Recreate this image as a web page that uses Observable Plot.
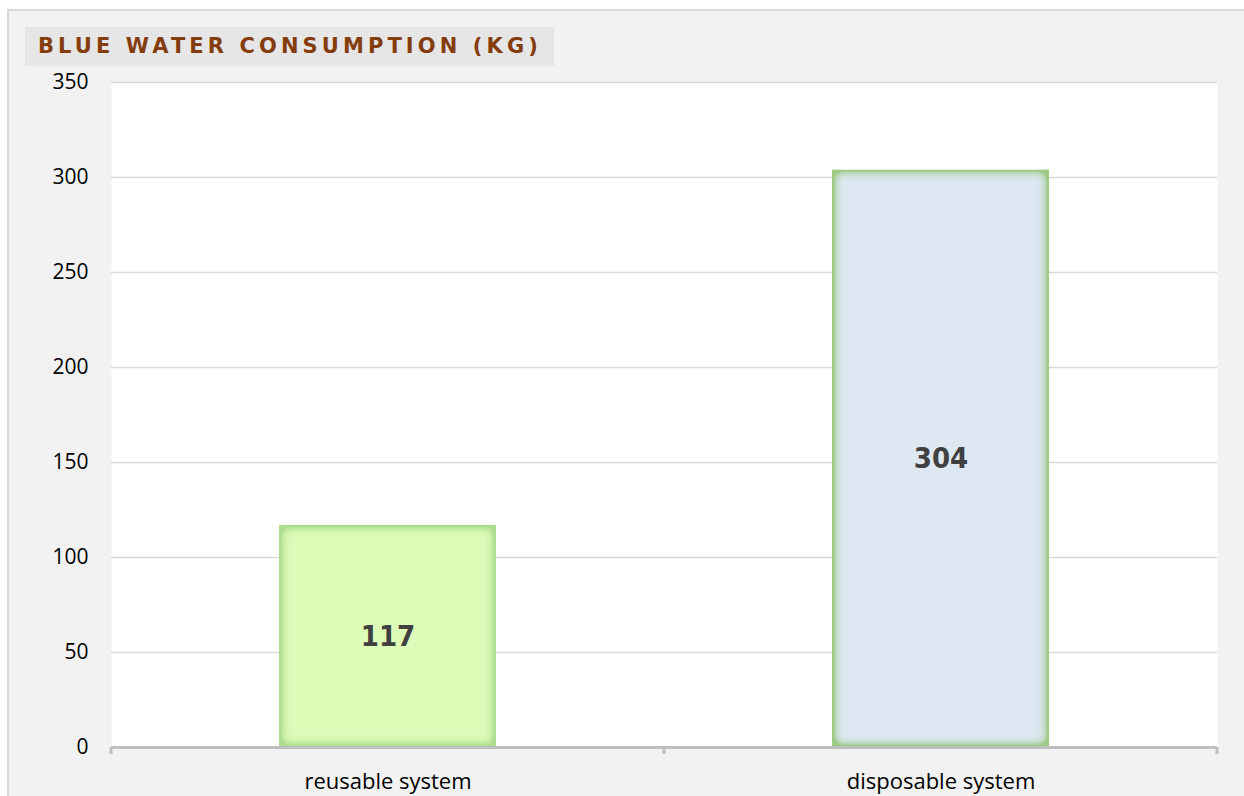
<!DOCTYPE html>
<html>
<head>
<meta charset="utf-8">
<script src="https://cdn.jsdelivr.net/npm/d3@7"></script>
<script src="https://cdn.jsdelivr.net/npm/@observablehq/plot@0.6"></script>
<style>
  html, body { margin: 0; padding: 0; background: #ffffff; width: 1244px; height: 796px; overflow: hidden; }
  #panel { position: absolute; left: 7px; top: 9px; width: 1240px; height: 800px; background: #f2f2f2; border: 2px solid #d9d9d9; box-sizing: border-box; }
  #title { position: absolute; left: 25px; top: 27px; height: 39px; padding: 0 12px 0 13px; background: #e6e6e6; color: #843c0c;
           font-family: "DejaVu Sans", sans-serif; font-weight: bold; font-size: 21px; letter-spacing: 4.1px; line-height: 39px; white-space: nowrap; }
  #chart { position: absolute; left: 0; top: 60px; }
</style>
</head>
<body>
<div id="panel"></div>
<div id="title">BLUE WATER CONSUMPTION (KG)</div>
<div id="chart"></div>
<script>
const categories = ["reusable system", "disposable system"];
const values = [117, 304];
const barFills = ["#dcfcb8", "#dde8f3"];
const glowColors = ["#addb90", "#9dcb83"];
const yTicks = [0, 50, 100, 150, 200, 250, 300, 350];

const data = categories.map((c, i) => ({cat: c, value: values[i], fill: barFills[i], idx: i}));

const chart = Plot.plot({
  width: 1244,
  height: 736,
  marginTop: 22,
  marginLeft: 111,
  marginRight: 27,
  marginBottom: 49,
  style: {background: "transparent", fontFamily: "'Open Sans', Lato, sans-serif", fontSize: "20px", color: "#000"},
  x: {domain: categories, paddingInner: 0.608, paddingOuter: 0.304},
  y: {domain: [0, 350]},
  color: {type: "identity"},
  marks: [
    Plot.frame({fill: "white", stroke: "none"}),
    Plot.gridY(yTicks, {stroke: "#d9d9d9", strokeOpacity: 1, strokeWidth: 1.5}),
    Plot.axisY(yTicks, {label: null, tickSize: 0, tickPadding: 23, fontSize: 21, fill: "#000"}),
    Plot.axisX({label: null, tickSize: 0, tickPadding: 26, fontSize: 22, fill: "#000"}),
    Plot.barY(data, {x: "cat", y: "value", fill: "fill"}),
    Plot.ruleY([0], {stroke: "#bfbfbf", strokeWidth: 3}),
    Plot.text(data, {x: "cat", y: d => d.value / 2, text: d => String(d.value), fontSize: 29, fontWeight: "bold", fill: "#404040", fontFamily: "'DejaVu Sans Condensed', 'Liberation Sans Narrow', sans-serif"})
  ]
});

document.getElementById("chart").appendChild(chart);

// inner glow filters for bars
const svg = d3.select(chart);
const defs = svg.insert("defs", ":first-child");
glowColors.forEach((col, i) => {
  const f = defs.append("filter").attr("id", "glow" + i)
    .attr("x", "-5%").attr("y", "-5%").attr("width", "110%").attr("height", "110%");
  f.append("feGaussianBlur").attr("in", "SourceAlpha").attr("stdDeviation", 6).attr("result", "blur");
  f.append("feComposite").attr("in", "SourceAlpha").attr("in2", "blur").attr("operator", "arithmetic")
    .attr("k2", 2.4).attr("k3", -2.4).attr("result", "edge");
  f.append("feFlood").attr("flood-color", col).attr("result", "flood");
  f.append("feComposite").attr("in", "flood").attr("in2", "edge").attr("operator", "in").attr("result", "glow");
  f.append("feComposite").attr("in", "glow").attr("in2", "SourceAlpha").attr("operator", "in").attr("result", "glowClip");
  const m = f.append("feMerge");
  m.append("feMergeNode").attr("in", "SourceGraphic");
  m.append("feMergeNode").attr("in", "glowClip");
});
svg.selectAll("g[aria-label='bar'] rect").each(function(d, i) {
  d3.select(this).attr("filter", "url(#glow" + i + ")");
});

// category boundary tick marks on the x axis
const xs = chart.scale("x");
const ys = chart.scale("y");
const y0 = ys.apply ? ys.apply(0) : 736 - 49;
const step = xs.step;
const bounds = [];
categories.forEach((c, i) => {
  const cx = xs.apply(c) + xs.bandwidth / 2;
  if (i === 0) bounds.push(cx - step / 2);
  bounds.push(cx + step / 2);
});
const tg = svg.append("g");
bounds.forEach(bx => {
  tg.append("line").attr("x1", bx).attr("x2", bx).attr("y1", y0).attr("y2", y0 + 7)
    .attr("stroke", "#bfbfbf").attr("stroke-width", 3);
});
</script>
</body>
</html>
